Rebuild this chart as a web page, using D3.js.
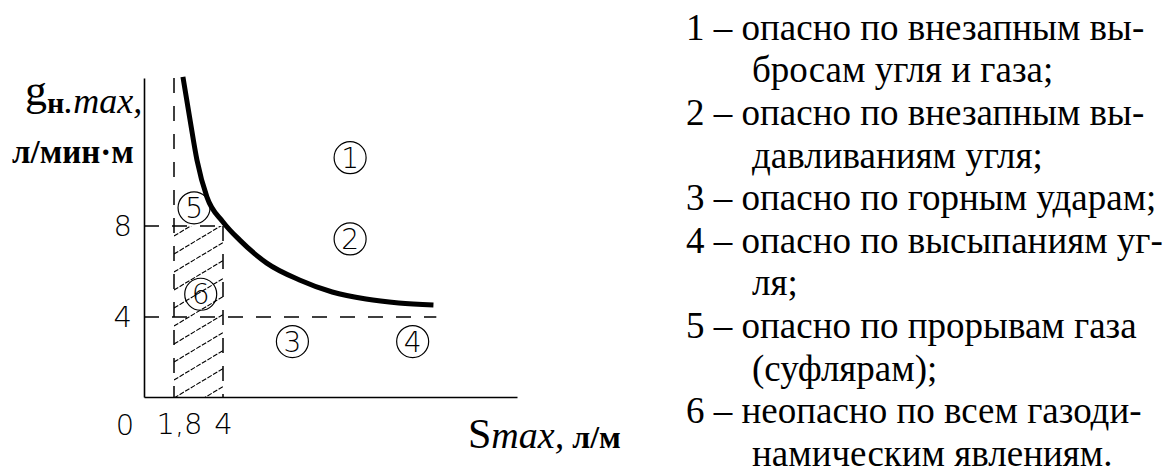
<!DOCTYPE html>
<html>
<head>
<meta charset="utf-8">
<script src="https://cdn.jsdelivr.net/npm/d3@7"></script>
<style>
  body { margin: 0; background: #fff; }
</style>
</head>
<body>
<div id="chart"></div>
<script>
// ===== data =====
// boundary curve g_n.max(S_max)
const curveS = [2.20, 2.52, 2.83, 3.28, 4.0, 4.76, 5.98, 7.46, 8.94, 10.47, 11.95, 13.52];
const curveG = [14.55, 12.66, 10.9, 9.27, 8.18, 7.38, 6.37, 5.63, 5.10, 4.79, 4.62, 4.53];

// critical values
const sCrit = [1.8, 4];
const gCrit = [8, 4];
const gLineEnd = 13.65;   // where the g = 4 dashed line stops

// tick labels
const xTickVals = [1.8, 4];
const yTickVals = [4, 8];

// zone markers (circled numbers)
const zoneNum = ["1", "2", "3", "4", "5", "6"];
const zoneS = [9.75, 9.75, 7.14, 12.58, 2.7, 3.0];
const zoneG = [11.0, 7.43, 2.77, 2.77, 8.8, 5.0];

// legend text
const legendLines = [
  "1 – опасно по внезапным вы-",
  "бросам угля и газа;",
  "2 – опасно по внезапным вы-",
  "давливаниям угля;",
  "3 – опасно по горным ударам;",
  "4 – опасно по высыпаниям уг-",
  "ля;",
  "5 – опасно по прорывам газа",
  "(суфлярам);",
  "6 – неопасно по всем газоди-",
  "намическим явлениям."
];

// ===== set-up =====
const W = 1168, H = 470;
const SERIF = '"Liberation Serif"';
const THIN = '"DejaVu Sans ExtraLight", "DejaVu Sans", sans-serif';

// the drawing is not to scale, so the axes are piecewise linear
const x = d3.scaleLinear()
    .domain([0, 1.8, 4, 17.3])
    .range([144, 174, 223, 517]);

const y = d3.scaleLinear()
    .domain([0, 4, 8, 14.5])
    .range([397, 317, 226, 78]);

const svg = d3.select("#chart").append("svg")
    .attr("width", W)
    .attr("height", H);

const dash = "15,13";

// hatching of zone 6 (S < 4, g < 8)
svg.append("defs").append("clipPath")
    .attr("id", "hatchclip")
  .append("rect")
    .attr("x", x(sCrit[0]))
    .attr("y", y(gCrit[0]))
    .attr("width", x(sCrit[1]) - x(sCrit[0]))
    .attr("height", y(0) - y(gCrit[0]));

const hatchW = x(sCrit[1]) - x(sCrit[0]);
const hatchStarts = d3.range(y(gCrit[0]) + 10, y(0) + hatchW * 0.6, 18);
svg.append("g")
    .attr("clip-path", "url(#hatchclip)")
  .selectAll("line")
  .data(hatchStarts)
  .join("line")
    .attr("x1", x(sCrit[0]))
    .attr("y1", d => d)
    .attr("x2", x(sCrit[1]))
    .attr("y2", d => d - hatchW * 0.6)
    .attr("stroke", "#000")
    .attr("stroke-width", 1.1)
    .attr("stroke-dasharray", "5,1.5");

// dashed guide lines
const guides = [
  {x1: sCrit[0], y1: 14.5, x2: sCrit[0], y2: 0},
  {x1: sCrit[1], y1: gCrit[0], x2: sCrit[1], y2: 0},
  {x1: 0, y1: gCrit[0], x2: sCrit[1], y2: gCrit[0]},
  {x1: 0, y1: gCrit[1], x2: gLineEnd, y2: gCrit[1]}
];
svg.append("g").selectAll("line")
  .data(guides)
  .join("line")
    .attr("x1", d => x(d.x1))
    .attr("y1", d => y(d.y1))
    .attr("x2", d => x(d.x2))
    .attr("y2", d => y(d.y2))
    .attr("stroke", "#000")
    .attr("stroke-width", 1.5)
    .attr("stroke-dasharray", dash);

// axes
const gx = svg.append("g")
    .attr("transform", "translate(0," + y(0) + ")")
    .call(d3.axisBottom(x).tickValues(xTickVals).tickSize(0).tickPadding(16)
        .tickFormat(d => String(d).replace(".", ",")));
const gy = svg.append("g")
    .attr("transform", "translate(" + x(0) + ",0)")
    .call(d3.axisLeft(y).tickValues(yTickVals).tickSize(0).tickPadding(12));

[gx, gy].forEach(g => {
  g.attr("font-size", null).attr("font-family", null);
  g.select(".domain").attr("stroke", "#000").attr("stroke-width", 1.6);
  g.selectAll("text")
      .style("font-family", THIN)
      .style("font-weight", "200")
      .style("font-size", "29px")
      .attr("fill", "#000");
});
gx.selectAll(".tick text").attr("dx", d => d === 1.8 ? 5 : 0);

// origin label
svg.append("text")
    .style("font-family", THIN)
    .style("font-weight", "200")
    .style("font-size", "29px")
    .attr("x", x(0) - 19)
    .attr("y", y(0) + 38)
    .attr("text-anchor", "middle")
    .text("0");

// boundary curve
const line = d3.line()
    .x(d => x(d[0]))
    .y(d => y(d[1]))
    .curve(d3.curveMonotoneX);

svg.append("path")
    .datum(d3.zip(curveS, curveG))
    .attr("fill", "none")
    .attr("stroke", "#000")
    .attr("stroke-width", 5)
    .attr("d", line);

// circled zone numbers
const zones = svg.append("g").selectAll("g")
  .data(zoneNum)
  .join("g")
    .attr("transform", (d, i) => "translate(" + x(zoneS[i]) + "," + y(zoneG[i]) + ")");
zones.append("circle")
    .attr("r", 16)
    .attr("fill", "none")
    .attr("stroke", "#000")
    .attr("stroke-width", 1.2);
zones.append("text")
    .style("font-family", THIN)
    .style("font-weight", "200")
    .style("font-size", "28px")
    .attr("text-anchor", "middle")
    .attr("dy", "0.36em")
    .text(d => d);

// axis titles
const ylab = svg.append("text")
    .style("font-family", SERIF)
    .attr("x", 25)
    .attr("y", 105);
ylab.append("tspan").style("font-size", "44px").text("g");
ylab.append("tspan").style("font-size", "30px").style("font-weight", "bold").attr("dy", 8).text("н");
ylab.append("tspan").style("font-size", "36px").style("font-style", "italic").text(".max,");

svg.append("text")
    .style("font-family", SERIF)
    .attr("x", 12)
    .attr("y", 163)
    .style("font-size", "33px")
    .style("font-weight", "bold")
    .text("л/мин·м");

const xlab = svg.append("text")
    .style("font-family", SERIF)
    .attr("x", 468)
    .attr("y", 448);
xlab.append("tspan").style("font-size", "42px").text("S");
xlab.append("tspan").style("font-size", "38px").style("font-style", "italic").text("max,");
xlab.append("tspan").style("font-size", "32px").style("font-weight", "bold").text(" л/м");

// legend
svg.append("g").selectAll("text")
  .data(legendLines)
  .join("text")
    .style("font-family", SERIF)
    .style("font-size", "37px")
    .attr("x", d => /^\d/.test(d) ? 686 : 752)
    .attr("y", (d, i) => 39.7 + i * 42.6)
    .text(d => d);
</script>
</body>
</html>
